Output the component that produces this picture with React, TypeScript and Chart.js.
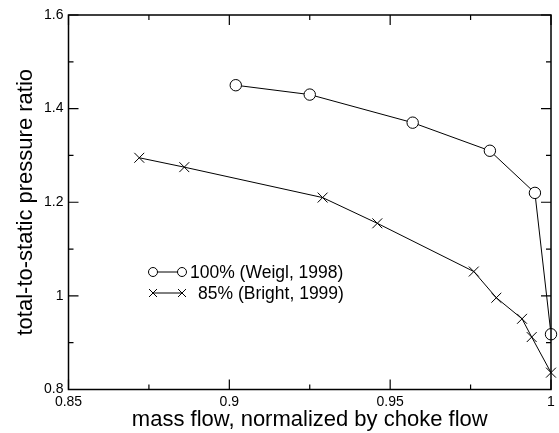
import React, { useEffect, useRef } from "react";
import { Chart, registerables } from "chart.js";

Chart.register(...registerables);

// ---- data ----
const weiglFlow = [0.902, 0.925, 0.957, 0.981, 0.995, 1.0];
const weiglRatio = [1.45, 1.43, 1.37, 1.31, 1.22, 0.918];
const brightFlow = [0.872, 0.886, 0.929, 0.946, 0.976, 0.983, 0.991, 0.994, 1.0];
const brightRatio = [1.295, 1.275, 1.21, 1.155, 1.052, 0.996, 0.951, 0.912, 0.836];
const seriesLabels = ["100% (Weigl, 1998)", "85% (Bright, 1999)"];
const xTitle = "mass flow, normalized by choke flow";
const yTitle = "total-to-static pressure ratio";
const xMin = 0.85, xMax = 1.0, xStep = 0.05;
const yMin = 0.8, yMax = 1.6, yStep = 0.2;

const FONT = "'Liberation Sans', Arial, Helvetica, sans-serif";

const fmt = (v: number) => String(Number(v.toFixed(3)));

const frameTicks = {
  id: "frameTicks",
  afterDraw(chart: any) {
    const { ctx, chartArea: a, scales } = chart;
    const xs = scales.x, ys = scales.y;
    ctx.save();
    ctx.strokeStyle = "#000";
    ctx.lineWidth = 1.5;
    ctx.strokeRect(a.left, a.top, a.right - a.left, a.bottom - a.top);
    ctx.lineWidth = 1.2;
    const major = 10, minor = 5;
    const xt = xs.ticks.map((t: any) => t.value);
    const yt = ys.ticks.map((t: any) => t.value);
    const drawX = (v: number, len: number) => {
      const p = xs.getPixelForValue(v);
      ctx.beginPath();
      ctx.moveTo(p, a.bottom); ctx.lineTo(p, a.bottom - len);
      ctx.moveTo(p, a.top); ctx.lineTo(p, a.top + len);
      ctx.stroke();
    };
    const drawY = (v: number, len: number) => {
      const p = ys.getPixelForValue(v);
      ctx.beginPath();
      ctx.moveTo(a.left, p); ctx.lineTo(a.left + len, p);
      ctx.moveTo(a.right, p); ctx.lineTo(a.right - len, p);
      ctx.stroke();
    };
    xt.forEach((v: number, i: number) => {
      drawX(v, major);
      if (i < xt.length - 1) drawX((v + xt[i + 1]) / 2, minor);
    });
    yt.forEach((v: number, i: number) => {
      drawY(v, major);
      if (i < yt.length - 1) drawY((v + yt[i + 1]) / 2, minor);
    });

    // legend
    ctx.lineWidth = 1;
    ctx.fillStyle = "#000";
    ctx.font = `17.5px ${FONT}`;
    ctx.textBaseline = "middle";
    ctx.textAlign = "left";
    const lx1 = 153, lx2 = 182;
    const r1 = 272, r2 = 293;
    // row 1: circles
    ctx.beginPath();
    ctx.moveTo(lx1, r1); ctx.lineTo(lx2, r1); ctx.stroke();
    [lx1, lx2].forEach((x) => {
      ctx.beginPath();
      ctx.arc(x, r1, 4.5, 0, Math.PI * 2);
      ctx.fillStyle = "#fff"; ctx.fill();
      ctx.stroke();
    });
    ctx.fillStyle = "#000";
    ctx.fillText(seriesLabels[0], 190, r1 + 1);
    // row 2: crosses
    ctx.beginPath();
    ctx.moveTo(lx1, r2); ctx.lineTo(lx2, r2); ctx.stroke();
    [lx1, lx2].forEach((x) => {
      const s = 4;
      ctx.beginPath();
      ctx.moveTo(x - s, r2 - s); ctx.lineTo(x + s, r2 + s);
      ctx.moveTo(x - s, r2 + s); ctx.lineTo(x + s, r2 - s);
      ctx.stroke();
    });
    ctx.fillText(seriesLabels[1], 198, r2 + 1);
    ctx.restore();
  },
};

export default function App() {
  const ref = useRef<HTMLCanvasElement>(null);
  useEffect(() => {
    if (!ref.current) return;
    const chart = new Chart(ref.current, {
      type: "line",
      data: {
        datasets: [
          {
            label: seriesLabels[0],
            data: weiglFlow.map((x, i) => ({ x, y: weiglRatio[i] })),
            borderColor: "#000",
            borderWidth: 1,
            pointStyle: "circle",
            pointRadius: 5.7,
            pointBorderWidth: 1,
            pointBackgroundColor: "#fff",
            pointBorderColor: "#000",
            tension: 0,
            clip: false as any,
          },
          {
            label: seriesLabels[1],
            data: brightFlow.map((x, i) => ({ x, y: brightRatio[i] })),
            borderColor: "#000",
            borderWidth: 1,
            pointStyle: "crossRot",
            pointRadius: 7,
            pointBorderWidth: 1,
            pointBorderColor: "#000",
            tension: 0,
            clip: false as any,
          },
        ],
      },
      options: {
        animation: false,
        responsive: false,
        maintainAspectRatio: false,
        layout: { padding: { top: 15, right: 4.5, left: 0, bottom: 0 } },
        plugins: { legend: { display: false }, tooltip: { enabled: false } },
        scales: {
          x: {
            type: "linear",
            min: xMin,
            max: xMax,
            grid: { display: false, drawTicks: false },
            border: { display: false },
            ticks: {
              stepSize: xStep,
              color: "#000",
              font: { family: FONT, size: 14 },
              padding: 4,
              maxRotation: 0,
              callback: (v: any) => fmt(Number(v)),
            },
            title: {
              display: true,
              text: xTitle,
              color: "#000",
              font: { family: FONT, size: 22, lineHeight: 1 },
              padding: { top: 0, bottom: 2.3 },
            },
            afterFit: (s: any) => { s.height = 43.5; },
          },
          y: {
            type: "linear",
            min: yMin,
            max: yMax,
            grid: { display: false, drawTicks: false },
            border: { display: false },
            ticks: {
              stepSize: yStep,
              color: "#000",
              font: { family: FONT, size: 14 },
              padding: 5,
              callback: (v: any) => fmt(Number(v)),
            },
            title: {
              display: true,
              text: yTitle,
              color: "#000",
              font: { family: FONT, size: 22, lineHeight: 1 },
              padding: { top: 14.5, bottom: 0 },
            },
            afterFit: (s: any) => { s.width = 68.5; },
          },
        },
      },
      plugins: [frameTicks],
    });
    return () => chart.destroy();
  }, []);
  return (
    <div style={{ position: "fixed", left: 0, top: 0, width: 559, height: 433, background: "#fff" }}>
      <canvas ref={ref} width={559} height={433} style={{ width: 559, height: 433, display: "block" }} />
    </div>
  );
}
